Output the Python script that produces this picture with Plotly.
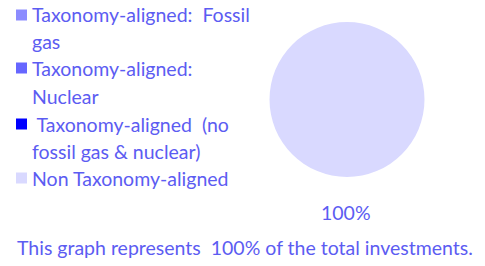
import plotly.graph_objects as go

categories = ["Taxonomy-aligned:  Fossil gas", "Taxonomy-aligned: Nuclear",
              "Taxonomy-aligned (no fossil gas & nuclear)", "Non Taxonomy-aligned"]
legend_lines = [["Taxonomy-aligned:  Fossil", "gas"],
                ["Taxonomy-aligned:", "Nuclear"],
                [" Taxonomy-aligned  (no", "fossil gas & nuclear)"],
                ["Non Taxonomy-aligned"]]
values = [0, 0, 0, 100]
colors = ["#8C8CFF", "#6666FF", "#0000FF", "#D9D9FF"]
pct_label = "100%"
footer = "This graph represents  100% of the total investments."

W, H = 485, 266
TXT = "#5C5CF2"
FONT = "Lato"
FS = 19.5

fig = go.Figure()
fig.add_trace(go.Pie(
    labels=categories, values=values, marker=dict(colors=colors, line=dict(width=0)),
    textinfo="none", sort=False, showlegend=False, hoverinfo="label+percent",
    domain=dict(x=[(347 - 78) / W, (347 + 78) / W], y=[(H - 177) / H, (H - 22) / H]),
))

shapes = []
annotations = []
line_y = [15, 41, 68, 96, 124, 151, 178]
k = 0
for i, lines in enumerate(legend_lines):
    sy = line_y[k]
    shapes.append(dict(type="rect", xref="paper", yref="paper",
                       x0=16 / W, x1=27 / W, y0=(H - sy - 5.5) / H, y1=(H - sy + 5.5) / H,
                       fillcolor=colors[i], line=dict(width=0)))
    for ln in lines:
        annotations.append(dict(text=ln, x=30 / W, y=(H - line_y[k]) / H, xref="paper", yref="paper",
                                xanchor="left", yanchor="middle", showarrow=False,
                                font=dict(family=FONT, size=FS, color=TXT)))
        k += 1

annotations.append(dict(text=pct_label, x=346 / W, y=(H - 212) / H, xref="paper", yref="paper",
                        xanchor="center", yanchor="middle", showarrow=False,
                        font=dict(family=FONT, size=FS, color=TXT)))
annotations.append(dict(text=footer, x=245 / W, y=(H - 247) / H, xref="paper", yref="paper",
                        xanchor="center", yanchor="middle", showarrow=False,
                        font=dict(family=FONT, size=FS, color=TXT)))

fig.update_layout(width=W, height=H, margin=dict(l=0, r=0, t=0, b=0),
                  paper_bgcolor="white", plot_bgcolor="white",
                  shapes=shapes, annotations=annotations)
fig.write_html("out.html", config={"displayModeBar": False},
               post_script="document.body.style.margin='0';")
